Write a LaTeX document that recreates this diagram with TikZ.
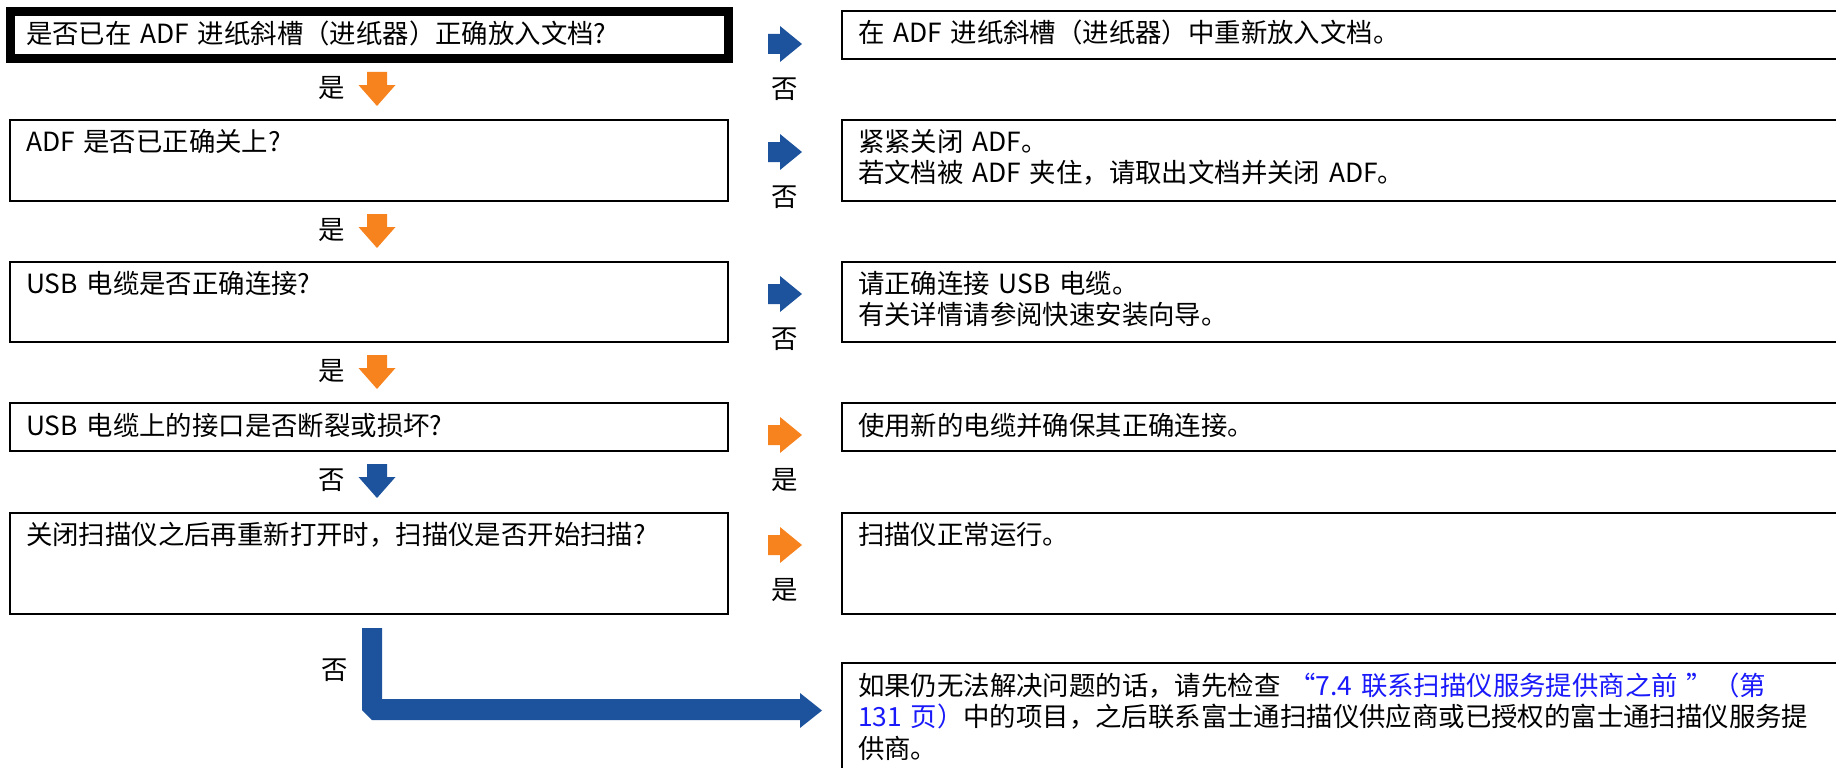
\documentclass[tikz,border=0pt]{standalone}
\usepackage{fontspec}
\setmainfont{Noto Sans CJK SC}
\usetikzlibrary{calc}

\definecolor{noblue}{RGB}{29,83,157}
\definecolor{yesorange}{RGB}{247,131,30}
\definecolor{refblue}{RGB}{25,25,250}

\begin{document}
\begin{tikzpicture}[x=1pt,y=-1pt]
	\tikzstyle{qbox}=[draw, line width=1.8pt, anchor=north west, outer sep=0pt, inner xsep=16pt, inner ysep=0pt, text width=686pt, align=left, text height=31pt, font=\fontsize{26.4}{31.5}\selectfont]
	\tikzstyle{abox}=[qbox, text width=964pt]
	\tikzstyle{ynlabel}=[inner sep=0pt, font=\fontsize{26.4}{31.5}\selectfont]

	\newcommand{\RightArrow}[2]{
		\fill [#1] ($(#2)+(0,-10)$) -- ++(12,0) -- ++(0,-8) -- ++(22,18) -- ++(-22,18) -- ++(0,-8) -- ++(-12,0) -- cycle;
	}
	\newcommand{\DownArrow}[2]{
		\fill [#1] ($(#2)+(-10,0)$) -- ++(20,0) -- ++(0,13) -- ++(8.5,0) -- ++(-18.5,21) -- ++(-18.5,-21) -- ++(8.5,0) -- cycle;
	}

	\useasboundingbox (0,0) rectangle (1836,768);

	% questions
	\node (q1) [qbox, line width=9pt, text height=32pt, text depth=15pt] at (10,12) {是否已在 ADF 进纸斜槽（进纸器）正确放入文档?};
	\node (q2) [qbox, text depth=50pt] at (10,120) {ADF 是否已正确关上?};
	\node (q3) [qbox, text depth=49pt] at (10,262) {USB 电缆是否正确连接?};
	\node (q4) [qbox, text height=32pt, text depth=16pt] at (10,403) {USB 电缆上的接口是否断裂或损坏?};
	\node (q5) [qbox, text depth=70pt] at (10,513) {关闭扫描仪之后再重新打开时，扫描仪是否开始扫描?};

	% answers
	\node (a1) [abox, text height=32pt, text depth=16pt] at (842,11) {在 ADF 进纸斜槽（进纸器）中重新放入文档。};
	\node (a2) [abox, text depth=50pt] at (842,120) {紧紧关闭 ADF。\\若文档被 ADF 夹住，请取出文档并关闭 ADF。};
	\node (a3) [abox, text depth=49pt] at (842,262) {请正确连接 USB 电缆。\\有关详情请参阅快速安装向导。};
	\node (a4) [abox, text height=32pt, text depth=16pt] at (842,403) {使用新的电缆并确保其正确连接。};
	\node (a5) [abox, text depth=70pt] at (842,513) {扫描仪正常运行。};
	\node (a6) [abox, text height=32pt, text depth=78pt] at (842,663) {如果仍无法解决问题的话，请先检查~{\color{refblue}“7.4~联系扫描仪服务提供商之前~”（第}\\{\color{refblue}131~页）}中的项目，之后联系富士通扫描仪供应商或已授权的富士通扫描仪服务提\\供商。};

	% no / yes to the right
	\coordinate (r1) at ($(q1.north east)+(40,32)$);
	\coordinate (r2) at ($(q2.north east)+(40,32)$);
	\coordinate (r3) at ($(q3.north east)+(40,32)$);
	\coordinate (r4) at ($(q4.north east)+(40,32)$);
	\coordinate (r5) at ($(q5.north east)+(40,32)$);
	\RightArrow{noblue}{r1}
	\RightArrow{noblue}{r2}
	\RightArrow{noblue}{r3}
	\RightArrow{yesorange}{r4}
	\RightArrow{yesorange}{r5}
	\node (n1) [ynlabel] at ($(r1)+(17,45)$) {否};
	\node (n2) [ynlabel] at ($(r2)+(17,45)$) {否};
	\node (n3) [ynlabel] at ($(r3)+(17,45)$) {否};
	\node (y4) [ynlabel] at ($(r4)+(17,45)$) {是};
	\node (y5) [ynlabel] at ($(r5)+(17,45)$) {是};

	% yes / no downwards
	\coordinate (d1) at ($(q1.south west)+(367,13)$);
	\coordinate (d2) at ($(q2.south west)+(367,13)$);
	\coordinate (d3) at ($(q3.south west)+(367,13)$);
	\coordinate (d4) at ($(q4.south west)+(367,13)$);
	\DownArrow{yesorange}{d1}
	\DownArrow{yesorange}{d2}
	\DownArrow{yesorange}{d3}
	\DownArrow{noblue}{d4}
	\node (y1) [ynlabel] at ($(d1)+(-45,16)$) {是};
	\node (y2) [ynlabel] at ($(d2)+(-45,16)$) {是};
	\node (y3) [ynlabel] at ($(d3)+(-45,16)$) {是};
	\node (n4) [ynlabel] at ($(d4)+(-45,16)$) {否};

	% last no, bent arrow to the last answer
	\coordinate (bend) at ($(q5.south west)+(352,14)$);
	\fill [noblue] (bend) -- ++(20,0) -- ++(0,71) -- ($(a6.north west)+(-42,36)$) -- ++(0,-6) -- ++(22,17.5) -- ++(-22,17.5) -- ++(0,-8) -- ($(bend)+(10,92)$) -- ++(-10,-10) -- cycle;
	\node (n5) [ynlabel] at ($(bend)+(-27,42)$) {否};
\end{tikzpicture}
\end{document}
